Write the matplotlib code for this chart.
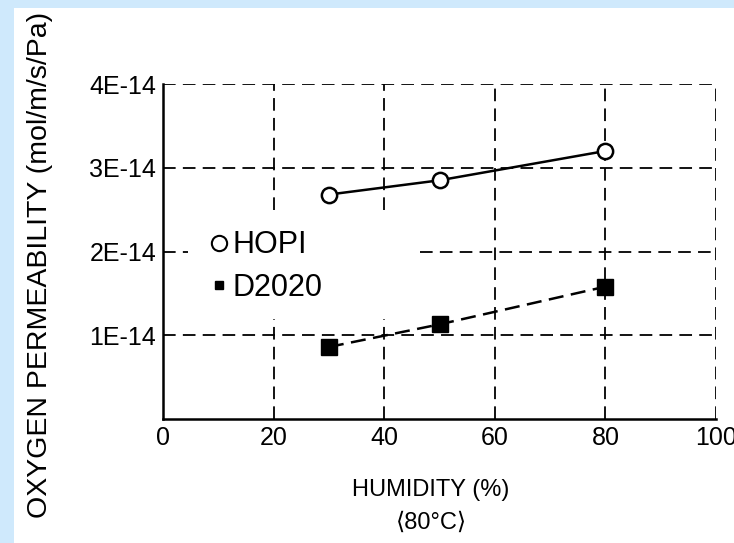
import numpy as np
import matplotlib
matplotlib.use('Agg')
import matplotlib.pyplot as plt
from matplotlib.lines import Line2D

humidity = [30, 50, 80]
hopi = [2.68e-14, 2.85e-14, 3.2e-14]
d2020 = [0.86e-14, 1.13e-14, 1.58e-14]
xticks = [0, 20, 40, 60, 80, 100]
yticks = [1e-14, 2e-14, 3e-14, 4e-14]
ytick_labels = ['1E-14', '2E-14', '3E-14', '4E-14']

font = 'Liberation Sans'

fig = plt.figure(figsize=(7.34, 5.43), dpi=100, facecolor='#cfe9fc')
# white panel
fig.add_artist(plt.Rectangle((14/734, 0), 1, 1 - 8/543, transform=fig.transFigure,
                             facecolor='white', edgecolor='none', zorder=0))
ax = fig.add_axes([163/734, 1 - 419/543, (716 - 163)/734, (419 - 84)/543])
ax.set_facecolor('none')
ax.set_xlim(0, 100)
ax.set_ylim(0, 4e-14)

dash = dict(color='black', lw=1.3, ls=(0, (7, 4)))
# grid lines, broken where the legend sits
ax.hlines([1e-14, 3e-14, 4e-14], 0, 100, **dash)
ax.hlines(2e-14, 0, 4.5, **dash)
ax.hlines(2e-14, 46.5, 100, **dash)
ax.vlines([60, 80, 100], 0, 4e-14, **dash)
ax.vlines([20, 40], 0, 1.2e-14, **dash)
ax.vlines([20, 40], 2.5e-14, 4e-14, **dash)

ax.plot(humidity, hopi, '-o', color='black', lw=1.8, ms=11, mfc='white', mew=1.8, zorder=5)
ax.plot(humidity, d2020, '--s', color='black', lw=1.8, ms=11, dashes=(6, 3), zorder=5)

for s in ['top', 'right']:
    ax.spines[s].set_visible(False)
ax.spines['left'].set_linewidth(1.8)
ax.spines['bottom'].set_linewidth(1.8)
ax.set_xticks(xticks)
ax.set_xticklabels([str(t) for t in xticks], fontsize=18, family=font)
ax.set_yticks(yticks)
ax.set_yticklabels(ytick_labels, fontsize=18, family=font)
ax.tick_params(length=0, pad=5)

handles = [Line2D([], [], marker='o', ls='none', color='black', mfc='white', ms=11, mew=1.5),
           Line2D([], [], marker='s', ls='none', color='black', ms=5.5)]
ax.legend(handles, ['HOPI', 'D2020'], loc='center left', bbox_to_anchor=(0.035, 0.455),
          frameon=False, prop={'family': font, 'size': 22}, handlelength=0.6,
          handletextpad=0.15, labelspacing=0.4)

fig.text(40/734, 1 - 265/543, 'OXYGEN PERMEABILITY (mol/m/s/Pa)', rotation=90, ha='center',
         va='center', fontsize=20.5, family=font)
fig.text(431/734, 1 - 490/543, 'HUMIDITY (%)', ha='center', va='center', fontsize=17,
         family=font)
fig.text(431/734, 1 - 523/543, '\u27e880\u00b0C\u27e9', ha='center', va='center', fontsize=17,
         family=[font, 'DejaVu Sans'])

fig.savefig('out.png', dpi=100, facecolor=fig.get_facecolor())
